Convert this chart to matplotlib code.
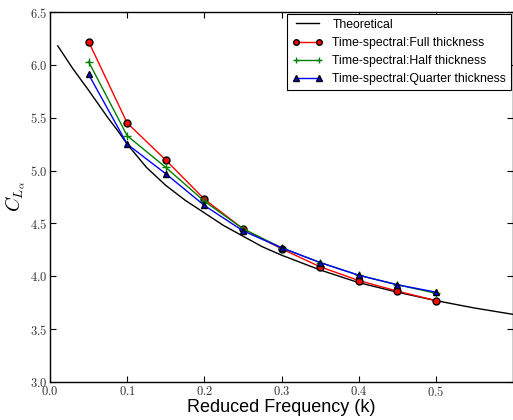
import numpy as np
import matplotlib
matplotlib.use('Agg')
import matplotlib.pyplot as plt
import matplotlib.ticker as ticker

plt.rcParams['mathtext.fontset'] = 'cm'

# theoretical curve
k_theory = [0.01, 0.02, 0.03, 0.04, 0.05, 0.0625, 0.075, 0.0875, 0.1, 0.125,
            0.15, 0.175, 0.2, 0.225, 0.25, 0.275, 0.3, 0.35, 0.4, 0.45,
            0.5, 0.55, 0.6]
cl_theory = [6.18, 6.07, 5.96, 5.86, 5.76, 5.63, 5.50, 5.38, 5.25, 5.03,
             4.86, 4.72, 4.60, 4.48, 4.38, 4.28, 4.20, 4.06, 3.94, 3.85,
             3.77, 3.70, 3.64]

# time-spectral results
k_ts = [0.05, 0.1, 0.15, 0.2, 0.25, 0.3, 0.35, 0.4, 0.45, 0.5]
cl_full = [6.22, 5.45, 5.10, 4.73, 4.45, 4.26, 4.09, 3.96, 3.86, 3.77]
cl_half = [6.03, 5.33, 5.03, 4.71, 4.45, 4.27, 4.13, 4.01, 3.92, 3.84]
cl_quarter = [5.91, 5.25, 4.97, 4.67, 4.43, 4.27, 4.13, 4.01, 3.92, 3.85]

xticks = [0.0, 0.1, 0.2, 0.3, 0.4, 0.5]

fig = plt.figure(figsize=(5.13, 4.2), dpi=100)
ax = fig.add_axes([50/513., 38/420., 463/513., 370/420.])

ax.plot(k_theory, cl_theory, 'k-', lw=1, label='Theoretical')
ax.plot(k_ts, cl_full, color='r', lw=1, marker='o', ms=5, mfc='r', mec='k',
        label='Time-spectral:Full thickness')
ax.plot(k_ts, cl_half, color='g', lw=1, marker='+', ms=6, mec='g',
        label='Time-spectral:Half thickness')
ax.plot(k_ts, cl_quarter, color='b', lw=1, marker='^', ms=5, mfc='b', mec='k',
        label='Time-spectral:Quarter thickness')

ax.set_xlim(0, 0.6)
ax.set_ylim(3.0, 6.5)
ax.set_xticks(xticks)
ax.yaxis.set_major_locator(ticker.MultipleLocator(0.5))
ax.xaxis.set_major_formatter(ticker.FormatStrFormatter('$%.1f$'))
ax.yaxis.set_major_formatter(ticker.FormatStrFormatter('$%.1f$'))
ax.tick_params(direction='in', top=True, right=True, labelsize=9,
               labelcolor='#333333', length=4, pad=2)
for s in ax.spines.values():
    s.set_linewidth(1.0)

ax.set_xlabel('Reduced Frequency (k)', fontsize=13, family='Liberation Sans',
              labelpad=0)
ax.set_ylabel(r'$C_{L_\alpha}$', fontsize=14, labelpad=2)

leg = ax.legend(loc='upper right', numpoints=2,
                prop={'family': 'Liberation Sans', 'size': 8.8},
                fancybox=False, framealpha=1, edgecolor='k',
                borderaxespad=0.15, handlelength=2.5, labelspacing=0.5,
                markerscale=0.8)
leg.get_frame().set_linewidth(0.8)

fig.savefig('out.png', dpi=100)
